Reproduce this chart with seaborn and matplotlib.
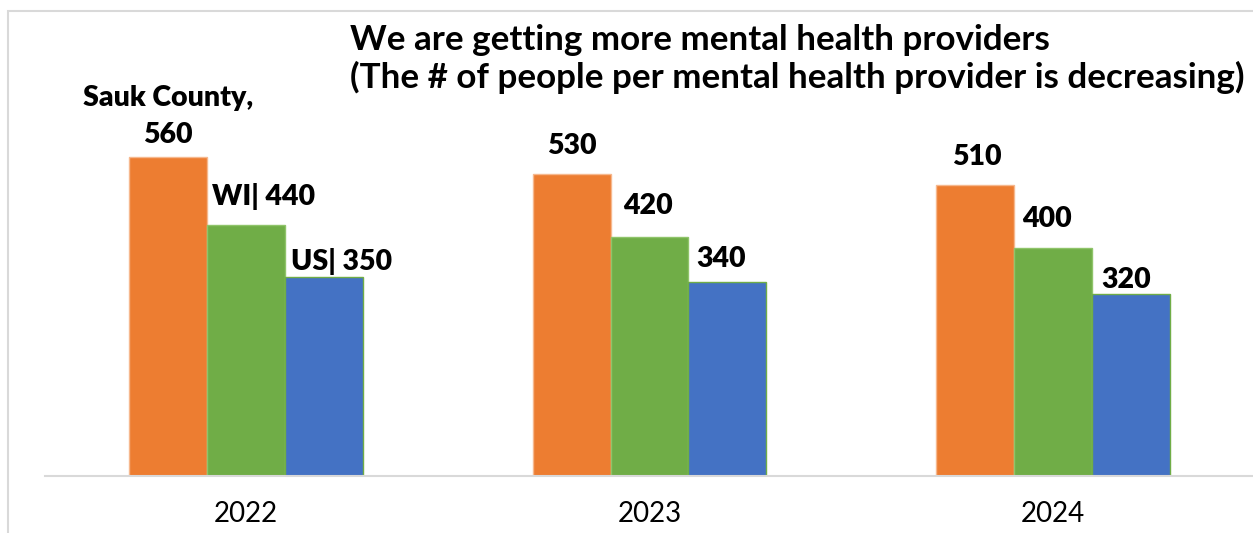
import matplotlib
matplotlib.use("Agg")
import matplotlib.pyplot as plt
import seaborn as sns
import pandas as pd
from matplotlib.patches import Rectangle

# Population per mental health provider (lower is better)
years = ["2022", "2023", "2024"]
regions = ["Sauk County", "WI", "US"]
sauk_county = [560, 530, 510]
wisconsin = [440, 420, 400]
united_states = [350, 340, 320]

title_lines = [
    "We are getting more mental health providers",
    "(The # of people per mental health provider is decreasing)",
]

colors = ["#ED7D31", "#70AD47", "#4472C4"]
edge_colors = ["#F6B88E", "#8FC46A", "#70AD47"]

df = pd.DataFrame({
    "year": years * 3,
    "region": [regions[0]] * 3 + [regions[1]] * 3 + [regions[2]] * 3,
    "value": sauk_county + wisconsin + united_states,
})

sns.set_theme(style="white")
plt.rcParams["font.family"] = ["Lato", "DejaVu Sans"]

W, H = 1253, 533
fig = plt.figure(figsize=(W / 100, H / 100), dpi=100)
ax = fig.add_axes([44.5 / W, 57 / H, 1210 / W, 341.8 / H])

sns.barplot(data=df, x="year", y="value", hue="region", hue_order=regions,
            order=years, palette=colors, width=0.58, saturation=1,
            legend=False, ax=ax)

for cont, ec in zip(ax.containers, edge_colors):
    for bar in cont:
        bar.set_edgecolor(ec)
        bar.set_linewidth(1.0)

ax.set_xlim(-0.5, 2.5)
ax.set_ylim(0, 600)
ax.set_xlabel("")
ax.set_ylabel("")
ax.set_yticks([])
for side in ["left", "right", "top"]:
    ax.spines[side].set_visible(False)
ax.spines["bottom"].set_color("#D9D9D9")
ax.spines["bottom"].set_linewidth(1.5)
ax.tick_params(axis="x", length=0, pad=18, labelsize=20, labelcolor="#000000")

# Data labels: (dx, dy) offsets in pixels from the bar's top-left corner, and alignment
label_layout = {
    (0, 0): (39, 14, "center"),
    (0, 1): (5, 20, "left"),
    (0, 2): (6, 7, "left"),
    (1, 0): (39, 20, "center"),
    (1, 1): (37, 23, "center"),
    (1, 2): (33, 15, "center"),
    (2, 0): (41, 20, "center"),
    (2, 1): (33, 21, "center"),
    (2, 2): (34, 6, "center"),
}

for r, cont in enumerate(ax.containers):
    for c, bar in enumerate(cont):
        v = int(round(bar.get_height()))
        if c == 0 and r == 0:
            txt = f"{regions[r]},\n{v}"
        elif c == 0:
            txt = f"{regions[r]}| {v}"
        else:
            txt = f"{v}"
        dx, dy, ha = label_layout[(c, r)]
        ax.annotate(txt, xy=(bar.get_x(), v), xytext=(dx, dy),
                    textcoords="offset pixels", ha=ha, va="baseline",
                    fontsize=20.5, fontweight="heavy", color="#000000",
                    linespacing=1.5, annotation_clip=False)

fig.text(350 / W, 1 - 50 / H, title_lines[0], fontsize=25.2, fontweight="bold",
         ha="left", va="baseline", color="#000000")
fig.text(350 / W, 1 - 88 / H, title_lines[1], fontsize=25.2, fontweight="bold",
         ha="left", va="baseline", color="#000000")

# Light chart-area frame
fig.patches.append(Rectangle((7.5 / W, -0.1), 1.2, 1 - 11.5 / H + 0.1,
                             transform=fig.transFigure, fill=False,
                             edgecolor="#D9D9D9", linewidth=1.5))

fig.savefig("out.png", dpi=100)
